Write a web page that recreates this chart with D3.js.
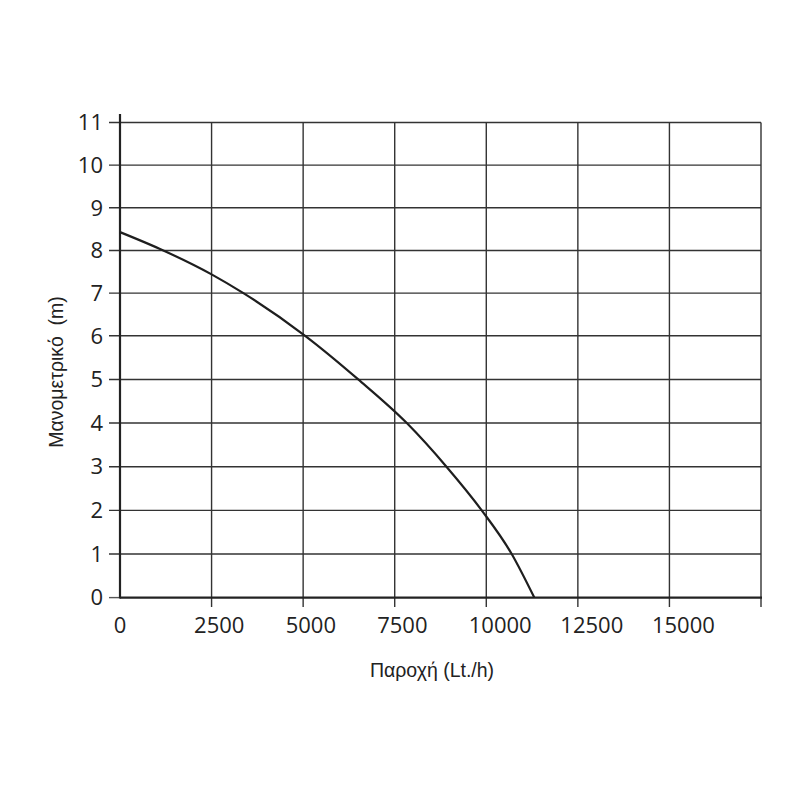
<!DOCTYPE html>
<html>
<head>
<meta charset="utf-8">
<script src="https://cdn.jsdelivr.net/npm/d3@7"></script>
<style>
  html, body { margin: 0; padding: 0; background: #fff; }
  svg { display: block; }
</style>
</head>
<body>
<svg id="chart" width="800" height="800"></svg>
<script>
// ---- data ----
const flowValues = [0, 1183, 2500, 3369, 5055, 6505, 7830, 8913, 9875, 10694, 11311];
const headValues = [8.43, 8, 7.44, 7, 6, 5, 4, 3, 2, 1, 0];
const xTicks = [0, 2500, 5000, 7500, 10000, 12500, 15000];
const xGrid = [2500, 5000, 7500, 10000, 12500, 15000, 17500];
const yTicks = [0, 1, 2, 3, 4, 5, 6, 7, 8, 9, 10, 11];
const xTitle = "Παροχή (Lt./h)";
const yTitle = "Μανομετρικό  (m)";

// ---- layout ----
const svg = d3.select("#chart");
const x = d3.scaleLinear().domain([0, 17500]).range([120, 761]);
const y = d3.scaleLinear().domain([0, 6, 11]).range([597.6, 335.8, 122.5]);

const tickFont = "'Open Sans', 'Noto Sans', sans-serif";
const titleFont = "'Liberation Sans', Arial, sans-serif";

// horizontal grid lines + y tick marks
svg.append("g").selectAll("line").data(yTicks.filter(d => d > 0)).join("line")
  .attr("x1", 109).attr("x2", x(17500))
  .attr("y1", d => y(d)).attr("y2", d => y(d))
  .attr("stroke", "#333").attr("stroke-width", 1.4);
svg.append("line").attr("x1", 109).attr("x2", 120)
  .attr("y1", y(0)).attr("y2", y(0)).attr("stroke", "#555").attr("stroke-width", 1.4);

// vertical grid lines + x tick marks
svg.append("g").selectAll("line").data(xGrid).join("line")
  .attr("x1", d => x(d)).attr("x2", d => x(d))
  .attr("y1", y(11)).attr("y2", 607)
  .attr("stroke", "#333").attr("stroke-width", 1.4);

// axes
svg.append("line").attr("x1", x(0)).attr("x2", x(0))
  .attr("y1", 114).attr("y2", y(0) + 1)
  .attr("stroke", "#222").attr("stroke-width", 2.2);
svg.append("line").attr("x1", x(0)).attr("x2", x(17500) + 1)
  .attr("y1", y(0)).attr("y2", y(0))
  .attr("stroke", "#222").attr("stroke-width", 2.4);

// curve
const pts = flowValues.map((q, i) => [q, headValues[i]]);
const line = d3.line().x(d => x(d[0])).y(d => y(d[1])).curve(d3.curveMonotoneX);
svg.append("path").datum(pts).attr("d", line)
  .attr("fill", "none").attr("stroke", "#1e1e1e").attr("stroke-width", 2.2);

// y tick labels
svg.append("g").selectAll("text").data(yTicks).join("text")
  .attr("x", 103).attr("y", d => y(d))
  .attr("dy", "0.35em")
  .attr("text-anchor", "end")
  .attr("font-family", tickFont).attr("font-size", 22)
  .attr("fill", "#222")
  .text(d => d);

// x tick labels
svg.append("g").selectAll("text").data(xTicks).join("text")
  .attr("x", d => d === 0 ? x(d) : x(d) - 17.5)
  .attr("y", 633)
  .attr("text-anchor", d => d === 0 ? "middle" : "start")
  .attr("font-family", tickFont).attr("font-size", 22)
  .attr("fill", "#222")
  .text(d => d);

// axis titles
svg.append("text").attr("x", 432).attr("y", 677)
  .attr("text-anchor", "middle")
  .attr("font-family", titleFont).attr("font-size", 19.5)
  .attr("fill", "#222")
  .style("white-space", "pre")
  .text(xTitle);

svg.append("text")
  .attr("transform", "translate(63,372) rotate(-90)")
  .attr("text-anchor", "middle")
  .attr("font-family", titleFont).attr("font-size", 19.5)
  .attr("fill", "#222")
  .style("white-space", "pre")
  .text(yTitle);
</script>
</body>
</html>
